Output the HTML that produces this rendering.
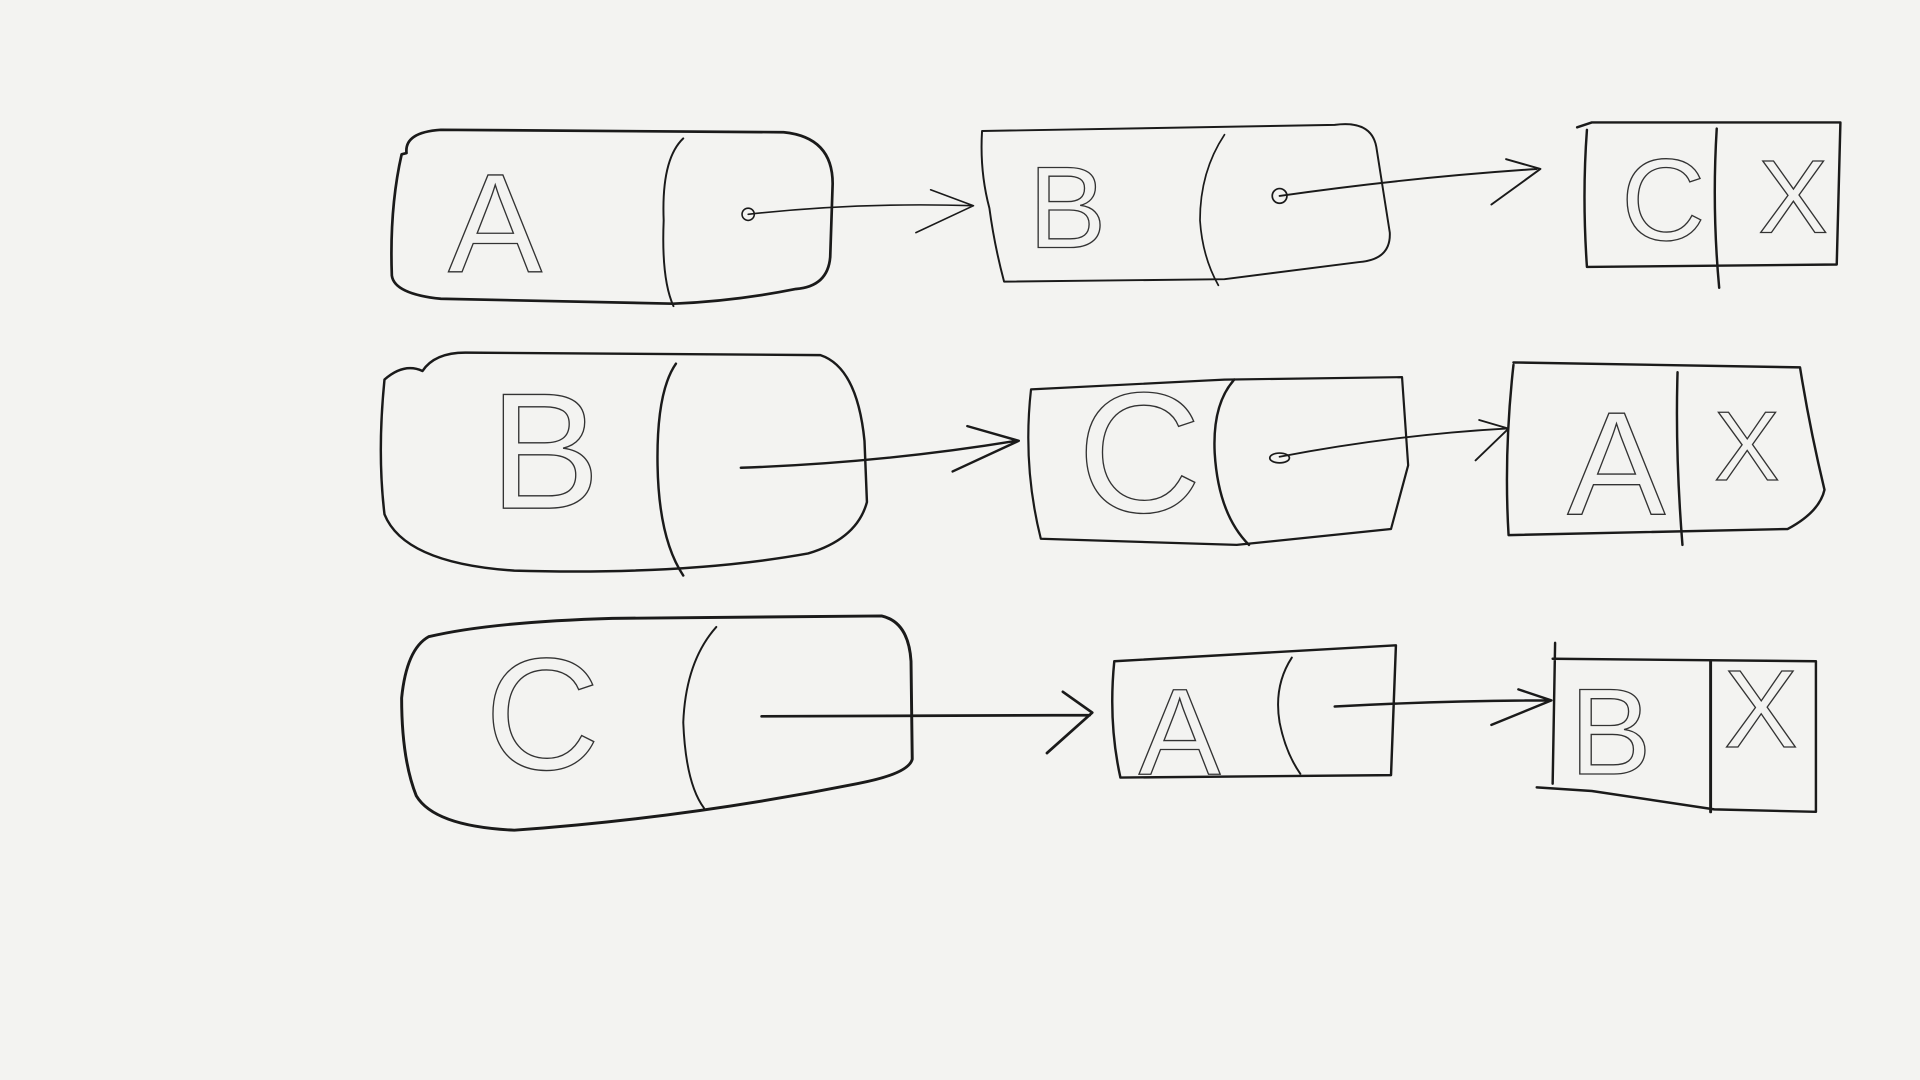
<!DOCTYPE html>
<html><head><meta charset="utf-8"><style>
html,body{margin:0;padding:0;background:#f3f3f1;}
svg{display:block}
text{font-family:"Liberation Sans",sans-serif;fill:none;stroke:#333;stroke-width:1.1;}
</style></head><body>
<svg width="1920" height="1080" viewBox="0 0 1568 882" xmlns="http://www.w3.org/2000/svg">
<rect width="1568" height="882" fill="#f3f3f1"/>
<g fill="none" stroke="#1a1a1a" stroke-linecap="round" stroke-linejoin="round">
<!-- Row 1 -->
<path d="M332,125 Q330,108 360,106 L640,108 Q680,112 680,150 L678,210 Q676,234 650,236 Q600,246 550,248 L360,244 Q322,240 320,225 Q318,170 328,126 Z" stroke-width="2.2"/>
<path d="M558,113 Q540,130 542,180 Q540,228 550,250" stroke-width="1.6"/>
<circle cx="611" cy="175" r="5" stroke-width="1.3"/>
<path d="M611,175 Q700,165 795,168 M760,155 L795,168 L748,190" stroke-width="1.3"/>
<path d="M802,107 L1090,102 Q1120,98 1124,120 L1135,190 Q1136,212 1110,214 L1000,228 L820,230 Q812,200 808,170 Q800,140 802,107 Z" stroke-width="1.6"/>
<path d="M1000,110 Q980,140 980,180 Q982,210 995,233" stroke-width="1.4"/>
<circle cx="1045" cy="160" r="6" stroke-width="1.4"/>
<path d="M1045,160 Q1150,145 1255,138 M1230,130 L1258,138 L1218,167" stroke-width="1.6"/>
<path d="M1288,104 L1300,100 L1503,100 L1500,216 L1296,218 Q1292,160 1296,106" stroke-width="2"/>
<path d="M1402,105 Q1398,170 1404,235" stroke-width="2"/>
<!-- Row 2 -->
<path d="M345,303 Q355,288 380,288 L670,290 Q700,300 706,360 L708,410 Q700,440 660,452 Q560,470 420,466 Q330,460 314,420 Q308,370 314,310 Q330,296 345,303 Z" stroke-width="2"/>
<path d="M552,297 Q536,320 537,380 Q538,440 558,470" stroke-width="2"/>
<path d="M605,382 Q720,378 830,360 M790,348 L832,360 L778,385" stroke-width="2"/>
<path d="M842,318 L1000,310 L1145,308 L1150,380 L1136,432 L1010,445 L850,440 Q835,380 842,318 Z" stroke-width="1.8"/>
<path d="M1008,310 Q990,330 992,370 Q995,420 1020,445" stroke-width="2"/>
<path d="M1045,373 Q1140,355 1230,350 M1208,343 L1232,350 L1205,376" stroke-width="1.5"/>
<ellipse cx="1045" cy="374" rx="8" ry="4" stroke-width="1.4"/>
<path d="M1236,296 L1470,300 Q1478,350 1490,400 Q1486,418 1460,432 L1232,437 Q1228,370 1236,298" stroke-width="2"/>
<path d="M1370,304 Q1368,370 1374,445" stroke-width="2"/>
<!-- Row 3 -->
<path d="M350,520 Q400,508 500,505 L720,503 Q742,508 744,540 L745,620 Q742,632 700,640 Q560,668 420,678 Q355,675 340,650 Q328,620 328,570 Q332,530 350,520 Z" stroke-width="2.4"/>
<path d="M585,512 Q560,540 558,590 Q560,640 575,660" stroke-width="1.6"/>
<path d="M622,585 L890,584 M868,565 L892,582 L855,615" stroke-width="2.2"/>
<path d="M910,540 L1140,527 L1136,633 L915,635 Q905,590 910,540" stroke-width="2"/>
<path d="M1055,537 Q1040,560 1045,590 Q1050,615 1062,632" stroke-width="1.6"/>
<path d="M1090,577 Q1180,572 1265,572 M1240,563 L1267,572 L1218,592" stroke-width="2"/>
<path d="M1268,538 L1483,540 L1483,663 L1400,661 L1300,646 L1255,643 M1270,525 L1268,640" stroke-width="2"/>
<path d="M1397,540 L1397,663" stroke-width="2.4"/>
</g>
<text x="366" y="222" font-size="115">A</text>
<text x="840" y="202" font-size="95">B</text>
<text x="1324" y="196" font-size="95">C</text>
<text x="1436" y="190" font-size="85">X</text>
<text x="400" y="415" font-size="135">B</text>
<text x="880" y="418" font-size="140">C</text>
<text x="1280" y="420" font-size="120">A</text>
<text x="1400" y="392" font-size="80">X</text>
<text x="396" y="628" font-size="130">C</text>
<text x="930" y="632" font-size="100">A</text>
<text x="1282" y="632" font-size="100">B</text>
<text x="1408" y="610" font-size="90">X</text>
</svg>
</body></html>
